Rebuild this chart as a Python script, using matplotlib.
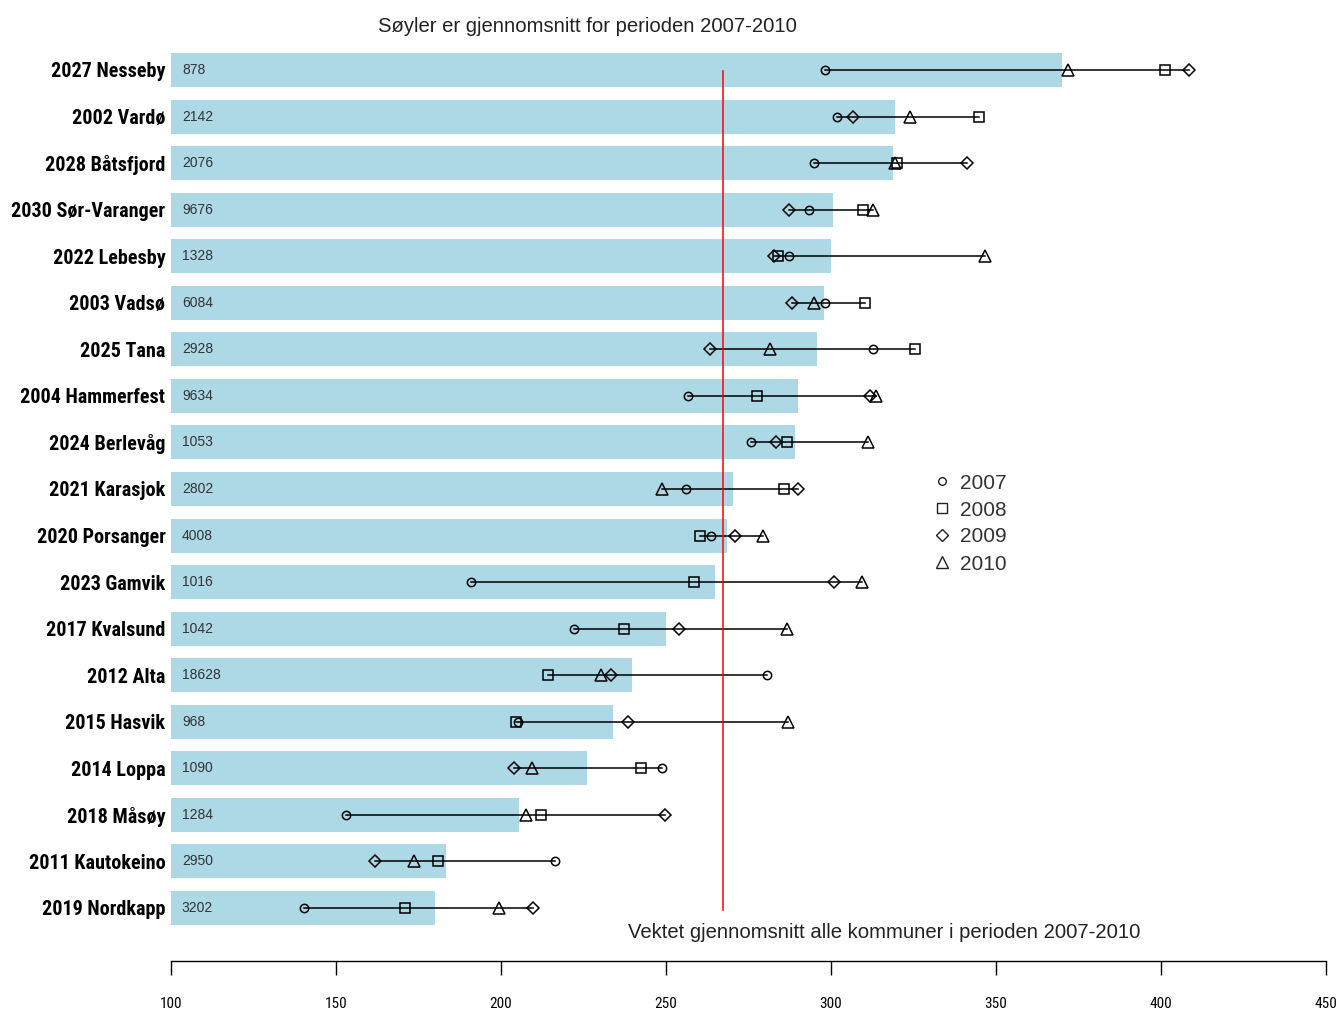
import matplotlib
matplotlib.use("Agg")
import matplotlib.pyplot as plt
from matplotlib import font_manager
from matplotlib.lines import Line2D
import numpy as np

# Municipalities (top to bottom), population and yearly values 2007-2010
kommuner = ["2027 Nesseby", "2002 Vardø", "2028 Båtsfjord", "2030 Sør-Varanger",
            "2022 Lebesby", "2003 Vadsø", "2025 Tana", "2004 Hammerfest",
            "2024 Berlevåg", "2021 Karasjok", "2020 Porsanger", "2023 Gamvik",
            "2017 Kvalsund", "2012 Alta", "2015 Hasvik", "2014 Loppa",
            "2018 Måsøy", "2011 Kautokeino", "2019 Nordkapp"]
befolkning = [878, 2142, 2076, 9676, 1328, 6084, 2928, 9634, 1053, 2802,
              4008, 1016, 1042, 18628, 968, 1090, 1284, 2950, 3202]
v2007 = [298.3, 301.9, 294.7, 293.2, 287.2, 298.1, 312.7, 256.6, 275.7, 256.1,
         263.5, 190.8, 222.2, 280.7, 205.2, 248.9, 153.0, 216.3, 140.2]
v2008 = [401.3, 344.7, 319.9, 309.6, 283.9, 310.4, 325.5, 277.5, 286.8, 285.9,
         260.2, 258.4, 237.2, 214.3, 204.6, 242.5, 212.1, 181.0, 170.8]
v2009 = [408.4, 306.6, 341.2, 287.2, 282.6, 288.1, 263.3, 311.8, 283.2, 289.9,
         270.8, 301.0, 254.0, 233.2, 238.6, 204.0, 249.7, 161.8, 209.8]
v2010 = [371.9, 323.8, 319.3, 312.7, 346.7, 294.9, 281.5, 313.6, 311.1, 248.9,
         279.4, 309.5, 286.7, 230.2, 286.9, 209.3, 207.6, 173.7, 199.4]
aar = ["2007", "2008", "2009", "2010"]
vektet_snitt = 267.2
xticks = [100, 150, 200, 250, 300, 350, 400, 450]

# Pick a narrow font for the category and tick labels
installed = {f.name for f in font_manager.fontManager.ttflist}
narrow_kw = None
for name in ["Liberation Sans Narrow", "Roboto Condensed", "Open Sans Condensed",
             "Noto Sans Condensed"]:
    if name in installed:
        narrow_kw = dict(family=[name, "DejaVu Sans"])
        break
if narrow_kw is None:
    dv_cond = any(f.name == "DejaVu Sans" and str(f.stretch) in ("condensed", "semi-condensed")
                  for f in font_manager.fontManager.ttflist)
    if dv_cond:
        narrow_kw = dict(family=["DejaVu Sans"], fontstretch="condensed")
    else:
        narrow_kw = dict(family=["Roboto", "DejaVu Sans"], fontstretch="condensed")
narrow_is_real = "Roboto" not in narrow_kw["family"]

W, H = 1340, 1013
fig = plt.figure(figsize=(W / 100, H / 100), dpi=100)
fig.patch.set_facecolor("white")

def fx(px):
    return px / W

def fy(py):
    return 1 - py / H

# Axes: x from 100 to 450, rows indexed 0 (top) .. 18 (bottom)
left, right, top, bottom = 171, 1326, 40, 961
ax = fig.add_axes([fx(left), fy(bottom), (right - left) / W, (bottom - top) / H])
n = len(kommuner)
row_px = (908 - 70) / (n - 1)
ax.set_xlim(100, 450)
ax.set_ylim((n - 1) + (bottom - 908) / row_px, -(70 - top) / row_px)

vals = np.array([v2007, v2008, v2009, v2010])
snitt = vals.mean(axis=0)
y = np.arange(n)

ax.barh(y, snitt - 100, left=100, height=0.73, color="#add8e6", zorder=1)

for i in range(n):
    ax.text(103.3, i, str(befolkning[i]), va="center", ha="left",
            fontsize=10, family=["Liberation Sans", "DejaVu Sans"],
            color="#333333", zorder=3)
    ax.plot([vals[:, i].min(), vals[:, i].max()], [i, i], color="black",
            lw=1.1, zorder=2)

markers = ["o", "s", "D", "^"]
msizes = [6, 7, 6.5, 9]
for k in range(4):
    ax.plot(vals[k], y, linestyle="none", marker=markers[k], ms=msizes[k],
            mfc="none", mec="black", mew=1.1, zorder=4)

# Weighted average line
ax.plot([vektet_snitt, vektet_snitt], [0.03, (910 - 70) / row_px], color="red",
        lw=1.1, zorder=5)

lab_size = 14.5 if narrow_is_real else 12
ax.set_yticks(y)
ax.set_yticklabels(kommuner, fontweight="bold", fontsize=lab_size, **narrow_kw)
ax.tick_params(axis="y", length=0, pad=4)

ax.set_xticks(xticks)
ax.set_xticklabels([str(t) for t in xticks], fontsize=11, **narrow_kw)
ax.tick_params(axis="x", direction="out", length=10, width=1, pad=16,
               color="black")
for s in ["top", "right", "left"]:
    ax.spines[s].set_visible(False)
ax.spines["bottom"].set_linewidth(1)

fig.text(fx(587), fy(27), "Søyler er gjennomsnitt for perioden 2007-2010",
         ha="center", va="center", fontsize=14.6,
         family=["Liberation Sans", "DejaVu Sans"], color="#222222")
fig.text(fx(884), fy(932), "Vektet gjennomsnitt alle kommuner i perioden 2007-2010",
         ha="center", va="center", fontsize=14.6,
         family=["Liberation Sans", "DejaVu Sans"], color="#222222")

# Legend for the four years
leg_ms = [5.5, 7, 6.5, 8]
for k, lab in enumerate(aar):
    py = 483 + k * 27
    fig.add_artist(Line2D([fx(942)], [fy(py - 2)], marker=markers[k], ms=leg_ms[k],
                          mfc="none", mec="#222222", mew=1.0, linestyle="none",
                          transform=fig.transFigure))
    fig.text(fx(960), fy(py), lab, ha="left", va="center", fontsize=15,
             family=["Liberation Sans", "DejaVu Sans"], color="#333333")

fig.savefig("out.png", dpi=100, facecolor="white")
